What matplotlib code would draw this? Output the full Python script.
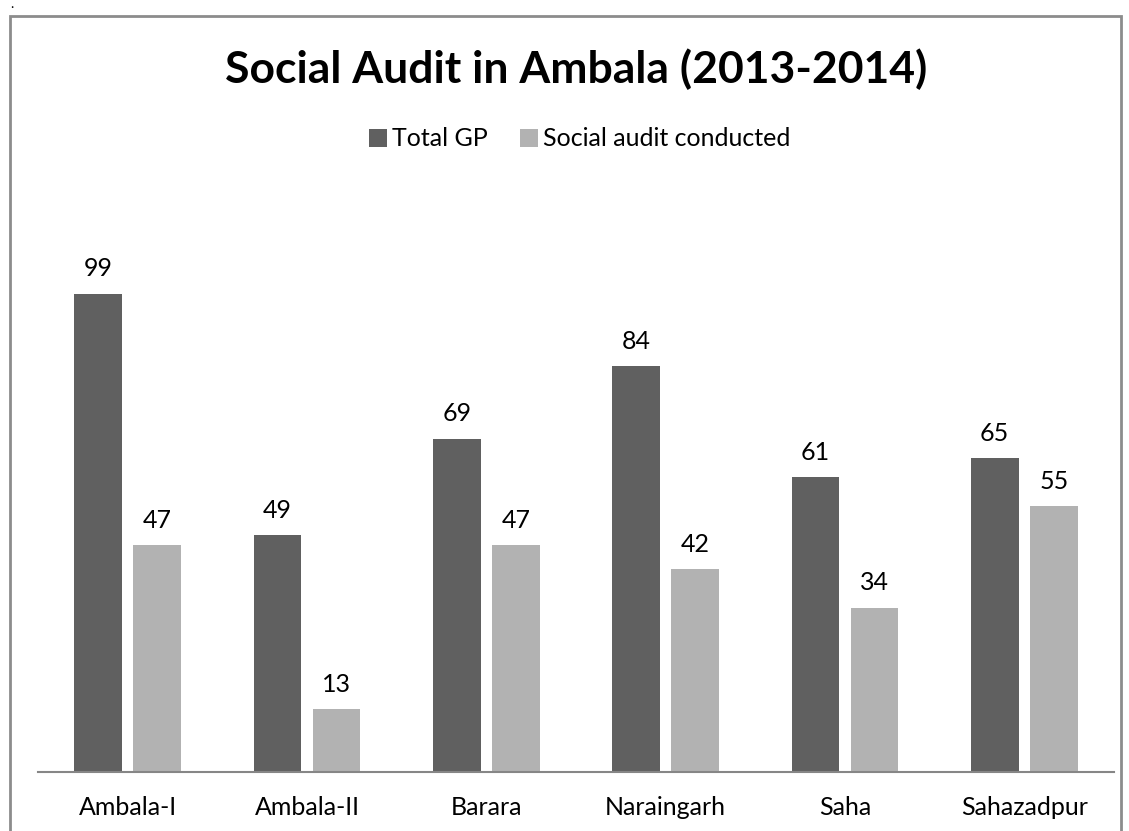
import numpy as np
import matplotlib
matplotlib.use("Agg")
import matplotlib.pyplot as plt
from matplotlib.patches import Rectangle

blocks = ["Ambala-I", "Ambala-II", "Barara", "Naraingarh", "Saha", "Sahazadpur"]
total_gp = [99, 49, 69, 84, 61, 65]
audits = [47, 13, 47, 42, 34, 55]

W, H = 1129, 831
plt.rcParams['font.family'] = ['Lato', 'DejaVu Sans']

fig = plt.figure(figsize=(W / 100, H / 100), dpi=100)

# outer chart frame (bottom edge is cut off in the reference)
fig.patches.append(Rectangle((10 / W, -0.01), 1111 / W, 1 - 16 / H + 0.01,
                             transform=fig.transFigure, fill=False,
                             edgecolor='#8c8c8c', linewidth=2))
fig.text(12 / W, 1 - 10 / H, '.', fontsize=10, ha='center', va='bottom')

ax = fig.add_axes([38 / W, 1 - 772 / H, 1076 / W, 580 / H])
x = np.arange(len(blocks))
w = 0.265
off = 0.165
b1 = ax.bar(x - off, total_gp, w, color='#606060', label='Total GP')
b2 = ax.bar(x + off, audits, w, color='#b2b2b2', label='Social audit conducted')

for bars in (b1, b2):
    for r in bars:
        ax.annotate(str(int(r.get_height())), (r.get_x() + r.get_width() / 2, r.get_height()),
                    xytext=(0, 12.5), textcoords='offset points', ha='center', va='baseline',
                    fontsize=18)

ax.set_xlim(-0.5, len(blocks) - 0.5)
ax.set_ylim(0, 580 / 4.83)
ax.set_xticks(x)
ax.set_xticklabels(blocks, fontsize=18)
ax.tick_params(axis='x', length=0, pad=17)
ax.set_yticks([])
for s in ('top', 'right', 'left'):
    ax.spines[s].set_visible(False)
ax.spines['bottom'].set_color('#868686')
ax.spines['bottom'].set_linewidth(1.5)

fig.text(576 / W, 1 - 83 / H, 'Social Audit in Ambala (2013-2014)', ha='center', va='baseline',
         fontsize=32, fontweight='bold')
fig.legend(handles=[b1, b2], loc='center', bbox_to_anchor=(580 / W, 1 - 139 / H),
           ncol=2, frameon=False, fontsize=18, handlelength=0.72, handleheight=0.72,
           handletextpad=0.2, columnspacing=1.3)

fig.savefig('out.png', dpi=100)
